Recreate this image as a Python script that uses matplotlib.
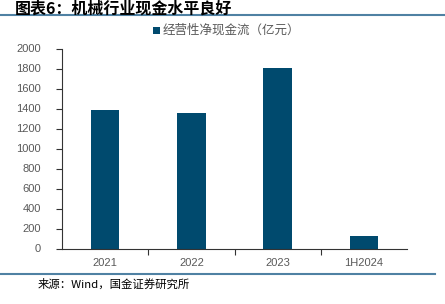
import matplotlib
matplotlib.use("Agg")
import matplotlib.pyplot as plt
from matplotlib.lines import Line2D
from matplotlib.patches import Rectangle

categories = ["2021", "2022", "2023", "1H2024"]
cash_flow = [1385, 1360, 1805, 130]
yticks = [0, 200, 400, 600, 800, 1000, 1200, 1400, 1600, 1800, 2000]

title_text = "图表6：机械行业现金水平良好"
legend_text = "经营性净现金流（亿元）"
source_text = "来源：Wind，国金证券研究所"

CJK = ["Noto Sans CJK SC", "DejaVu Sans"]
NUM = ["Liberation Sans", "DejaVu Sans"]
bar_color = "#004a6e"
grey = "#595959"
line_blue = "#4f81a3"

W, H = 445, 304
fig = plt.figure(figsize=(W / 100, H / 100), dpi=100)

ax = fig.add_axes([62 / W, 1 - 248.5 / H, (407 - 62) / W, (248.5 - 48.5) / H])
x = range(len(categories))
ax.bar(x, cash_flow, width=0.33, color=bar_color, zorder=2)
ax.set_xlim(-0.5, len(categories) - 0.5)
ax.set_ylim(0, 2000)
ax.set_yticks(yticks)
ax.set_yticklabels([str(v) for v in yticks], fontfamily=NUM, fontsize=8, color=grey)
ax.set_xticks(list(x))
ax.set_xticklabels(categories, fontfamily=NUM, fontsize=8, color=grey)
ax.set_xticks([i + 0.5 for i in range(len(categories) - 1)], minor=True)
ax.tick_params(axis="x", which="major", length=0, pad=7)
ax.tick_params(axis="x", which="minor", length=4, direction="out", color="#333333", width=0.8)
ax.tick_params(axis="y", length=4, direction="out", color="#333333", width=0.8, pad=11)
for s in ["top", "right"]:
    ax.spines[s].set_visible(False)
ax.spines["left"].set_color("#333333")
ax.spines["bottom"].set_color("#333333")
ax.spines["left"].set_linewidth(0.8)
ax.spines["bottom"].set_linewidth(0.8)

# legend
fig.patches.append(Rectangle((153 / W, 1 - 34 / H), 7 / W, 7 / H, transform=fig.transFigure,
                             facecolor=bar_color, edgecolor="none", figure=fig))
fig.text(163 / W, 1 - 30.5 / H, legend_text, fontfamily=CJK, fontsize=9, color=grey,
         ha="left", va="center")

# title and frame lines
fig.add_artist(Line2D([0, 1], [1 - 14.5 / H, 1 - 14.5 / H], transform=fig.transFigure,
                      color=line_blue, linewidth=1.5))
fig.text(15 / W, 1 - 0.2 / H, title_text, fontfamily=CJK, fontsize=11.5, fontweight="bold",
         style="italic", color="black", ha="left", va="top")
fig.add_artist(Line2D([0, 435 / W], [1 - 273.5 / H, 1 - 273.5 / H], transform=fig.transFigure,
                      color=line_blue, linewidth=1.5))
fig.text(38 / W, 1 - 284 / H, source_text, fontfamily=CJK, fontsize=8.2, color="black",
         ha="left", va="center")

fig.savefig("out.png", dpi=100)
